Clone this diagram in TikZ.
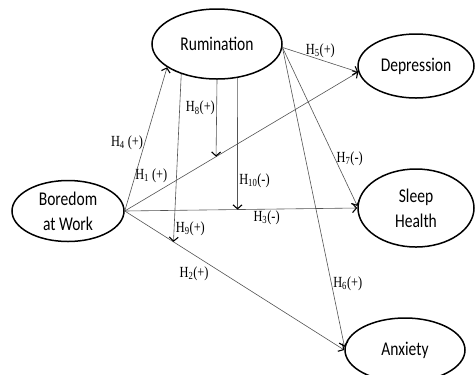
\documentclass[tikz,border=0pt]{standalone}
\usepackage{fontspec}
\setmainfont[FakeStretch=0.8]{Liberation Serif}
\newfontfamily\calibfont[FakeStretch=0.8]{Carlito}
\usetikzlibrary{positioning}
\usetikzlibrary{shapes.geometric}
\usetikzlibrary{arrows.meta}

\begin{document}
\begin{tikzpicture}[x=1bp, y=-1bp,
			>={Straight Barb[length=4bp,width=9bp,line width=1.1bp,color=black]},
			construct/.style={draw, ellipse, line width=1.5bp, inner sep=-3bp, align=center, font=\calibfont\fontsize{19.5}{25}\selectfont},
			link/.style={draw=gray!65!black, ->, line width=0.6bp},
			hyp/.style={font=\fontsize{15.5}{17}\selectfont, inner sep=1.5bp}]
			\useasboundingbox (0,0) rectangle (475,374);
			\node[construct, minimum width=130bp, minimum height=70bp] (rum) at (217,44) {Rumination};
			\node[construct, minimum width=116bp, minimum height=64bp] (dep) at (416,66) {Depression};
			\node[construct, minimum width=116bp, minimum height=78bp] (sleep) at (416,208) {Sleep\\Health};
			\node[construct, minimum width=120bp, minimum height=64bp] (anx) at (405,350) {Anxiety};
			\node[construct, minimum width=112bp, minimum height=61bp] (bored) at (68,211) {Boredom\\at Work};
			% direct effects of boredom
			\path[link] (bored.east) -- node[hyp, pos=0.475, anchor=east] (lh4) {H\textsubscript{4} (+)} (rum.205);
			\path[link] (bored.east) -- node[hyp, pos=0.19, anchor=south east] (lh1) {H\textsubscript{1} (+)} coordinate[pos=0.391] (h8end) (dep.186);
			\path[link] (bored.east) -- node[hyp, pos=0.61, below] (lh3) {H\textsubscript{3}(-)} coordinate[pos=0.485] (h10end) (sleep.west);
			\path[link] (bored.east) -- node[hyp, pos=0.39, anchor=north east] (lh2) {H\textsubscript{2}(+)} coordinate[pos=0.222] (h9end) (anx.west);
			% effects of rumination
			\path[link] (rum.357) -- node[hyp, pos=0.5, above] (lh5) {H\textsubscript{5}(+)} (dep.186);
			\path[link] (rum.357) -- node[hyp, pos=0.7, anchor=west] (lh7) {H\textsubscript{7}(-)} (sleep.178);
			\path[link] (rum.357) -- node[hyp, pos=0.79, anchor=west] (lh6) {H\textsubscript{6}(+)} (anx.177);
			% moderation
			\path[link] (rum.south) -- node[hyp, pos=0.37, anchor=east] (lh8) {H\textsubscript{8}(+)} (h8end);
			\path[link] (rum.301) -- node[hyp, pos=0.78, anchor=west] (lh10) {H\textsubscript{10}(-)} (h10end);
			\path[link] (rum.220) -- node[hyp, pos=0.92, anchor=west] (lh9) {H\textsubscript{9}(+)} (h9end);
	\end{tikzpicture}
\end{document}
